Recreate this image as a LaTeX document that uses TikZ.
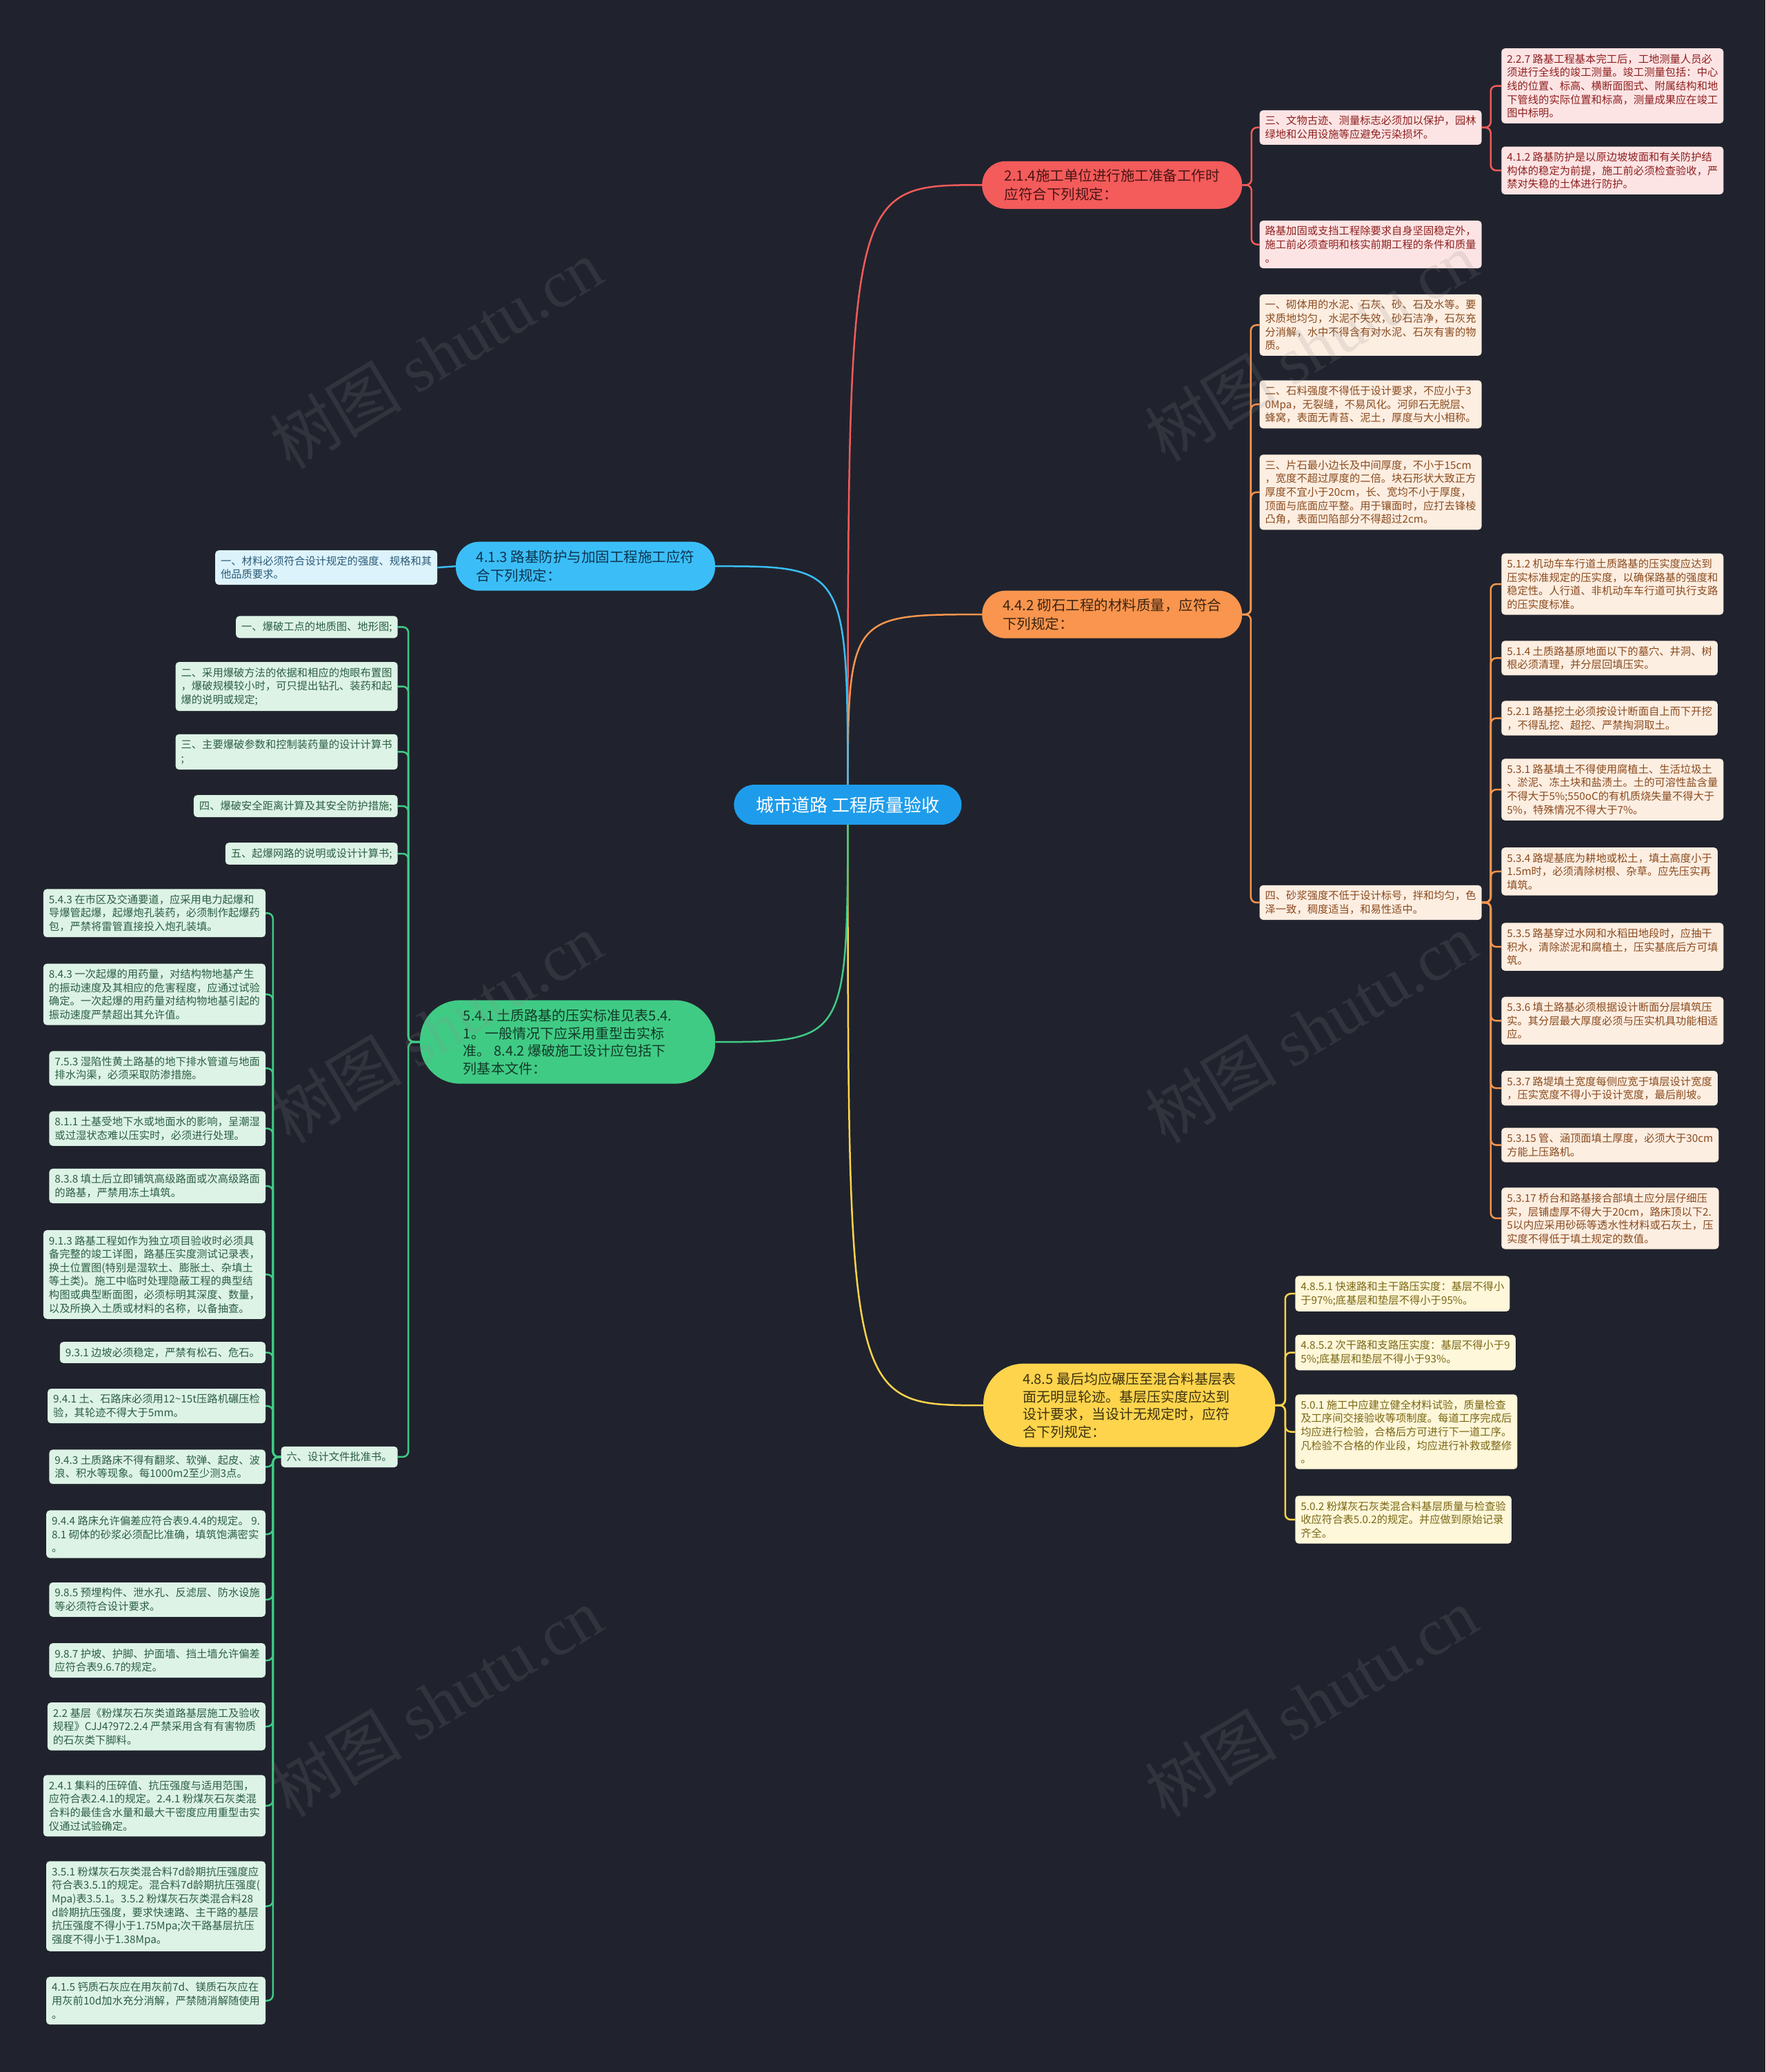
\documentclass[tikz,border=0pt]{standalone}
\usepackage{fontspec}
\setmainfont{Noto Sans CJK SC}
\newfontfamily\wmlatin{Liberation Serif}
\usetikzlibrary{backgrounds}

\definecolor{bg}{HTML}{20232D}
\definecolor{rootC}{HTML}{1E9CEB}
\definecolor{redC}{HTML}{F45B5B}\definecolor{redL}{HTML}{FDE4E4}\definecolor{redT}{HTML}{8E1F1F}\definecolor{redK}{HTML}{4A1414}
\definecolor{oraC}{HTML}{F9954E}\definecolor{oraL}{HTML}{FDEEE2}\definecolor{oraT}{HTML}{8A4B1E}\definecolor{oraK}{HTML}{3D2412}
\definecolor{yelC}{HTML}{FED44C}\definecolor{yelL}{HTML}{FEF7DA}\definecolor{yelT}{HTML}{7B6714}\definecolor{yelK}{HTML}{3D3310}
\definecolor{bluC}{HTML}{3BBEF7}\definecolor{bluL}{HTML}{DDF3FC}\definecolor{bluT}{HTML}{2A5B78}\definecolor{bluK}{HTML}{0E3550}
\definecolor{grnC}{HTML}{40CB85}\definecolor{grnL}{HTML}{DDF3E6}\definecolor{grnT}{HTML}{2C5E44}\definecolor{grnK}{HTML}{123A26}
\definecolor{wmC}{HTML}{8A8A8A}

\begin{document}
\begin{tikzpicture}[
  x=1.9162pt, y=-1.9162pt,
  leaf/.style={rounded corners=5pt, inner xsep=8pt, inner ysep=8pt, align=left,
               font=\fontsize{15.3pt}{19.6pt}\selectfont},
  rleaf/.style={leaf, anchor=west, fill=redL, text=redT},
  oleaf/.style={leaf, anchor=west, fill=oraL, text=oraT},
  yleaf/.style={leaf, anchor=west, fill=yelL, text=yelT},
  bleaf/.style={leaf, anchor=east, fill=bluL, text=bluT},
  gleaf/.style={leaf, anchor=east, fill=grnL, text=grnT},
  topic/.style={align=left, inner xsep=20pt, inner ysep=4pt,
                font=\fontsize{20.5pt}{27pt}\selectfont,
                minimum width=377pt, minimum height=69pt, rounded corners=34pt},
  bigtopic/.style={topic, font=\fontsize{20pt}{25.5pt}\selectfont,
                   minimum height=121pt, rounded corners=58pt},
  link/.style={line width=2.5pt, rounded corners=8pt},
  wm/.style={rotate=31, text=wmC, opacity=0.17, font=\fontsize{96pt}{96pt}\selectfont},
]
\useasboundingbox (0,0) rectangle (1336,1568);

% ── 中心主题 ──
\node[fill=rootC, text=white, font=\fontsize{26pt}{30pt}\selectfont,
      minimum width=330pt, minimum height=58pt, rounded corners=29pt] (root) at (641.5,609)
  {城市道路 工程质量验收};

% ── 一级分支 ──
\node[topic, fill=redC, text=redK] (n214) at (841.5,140)
  {2.1.4施工单位进行施工准备工作时\\应符合下列规定：};
\node[topic, fill=oraC, text=oraK] (n442) at (841.5,465)
  {4.4.2 砌石工程的材料质量，应符合\\下列规定：};
\node[bigtopic, fill=yelC, text=yelK, minimum width=423pt] (n485) at (854.5,1063.5)
  {4.8.5 最后均应碾压至混合料基层表\\面无明显轮迹。基层压实度应达到\\设计要求，当设计无规定时，应符\\合下列规定：};
\node[topic, fill=bluC, text=bluK, minimum width=376pt, minimum height=71pt] (n413) at (443,428.5)
  {4.1.3 路基防护与加固工程施工应符\\合下列规定：};
\node[bigtopic, fill=grnC, text=grnK, minimum width=428pt] (n541) at (429.5,788.5)
  {5.4.1 土质路基的压实标准见表5.4.\\1。一般情况下应采用重型击实标\\准。 8.4.2 爆破施工设计应包括下\\列基本文件：};

% ── 2.1.4 分支 ──
\node[rleaf] (r3) at (953,96.5)
  {三、文物古迹、测量标志必须加以保护，园林\\绿地和公用设施等应避免污染损坏。};
\node[rleaf] (rjg) at (953,185)
  {路基加固或支挡工程除要求自身坚固稳定外，\\施工前必须查明和核实前期工程的条件和质量\\。};
\node[rleaf] (r227) at (1136,65)
  {2.2.7 路基工程基本完工后，工地测量人员必\\须进行全线的竣工测量。竣工测量包括：中心\\线的位置、标高、横断面图式、附属结构和地\\下管线的实际位置和标高，测量成果应在竣工\\图中标明。};
\node[rleaf] (r412) at (1136,129)
  {4.1.2 路基防护是以原边坡坡面和有关防护结\\构体的稳定为前提，施工前必须检查验收，严\\禁对失稳的土体进行防护。};

% ── 4.4.2 分支 ──
\node[oleaf] (o1) at (953,246)
  {一、砌体用的水泥、石灰、砂、石及水等。要\\求质地均匀，水泥不失效，砂石洁净，石灰充\\分消解，水中不得含有对水泥、石灰有害的物\\质。};
\node[oleaf] (o2) at (953,306)
  {二、石料强度不得低于设计要求，不应小于3\\0Mpa，无裂缝，不易风化。河卵石无脱层、\\蜂窝，表面无青苔、泥土，厚度与大小相称。};
\node[oleaf] (o3) at (953,372.5)
  {三、片石最小边长及中间厚度，不小于15cm\\，宽度不超过厚度的二倍。块石形状大致正方\\厚度不宜小于20cm，长、宽均不小于厚度，\\顶面与底面应平整。用于镶面时，应打去锋棱\\凸角，表面凹陷部分不得超过2cm。};
\node[oleaf] (o4) at (953,683)
  {四、砂浆强度不低于设计标号，拌和均匀，色\\泽一致，稠度适当，和易性适中。};
\node[oleaf] (o512) at (1136,442)
  {5.1.2 机动车车行道土质路基的压实度应达到\\压实标准规定的压实度，以确保路基的强度和\\稳定性。人行道、非机动车车行道可执行支路\\的压实度标准。};
\node[oleaf] (o514) at (1136,498)
  {5.1.4 土质路基原地面以下的墓穴、井洞、树\\根必须清理，并分层回填压实。};
\node[oleaf] (o521) at (1136,543.5)
  {5.2.1 路基挖土必须按设计断面自上而下开挖\\，不得乱挖、超挖、严禁掏洞取土。};
\node[oleaf] (o531) at (1136,597.5)
  {5.3.1 路基填土不得使用腐植土、生活垃圾土\\、淤泥、冻土块和盐渍土。土的可溶性盐含量\\不得大于5\%;550oC的有机质烧失量不得大于\\5\%，特殊情况不得大于7\%。};
\node[oleaf] (o534) at (1136,659.5)
  {5.3.4 路堤基底为耕地或松土，填土高度小于\\1.5m时，必须清除树根、杂草。应先压实再\\填筑。};
\node[oleaf] (o535) at (1136,716.5)
  {5.3.5 路基穿过水网和水稻田地段时，应抽干\\积水，清除淤泥和腐植土，压实基底后方可填\\筑。};
\node[oleaf] (o536) at (1136,772.5)
  {5.3.6 填土路基必须根据设计断面分层填筑压\\实。其分层最大厚度必须与压实机具功能相适\\应。};
\node[oleaf] (o537) at (1136,823.5)
  {5.3.7 路堤填土宽度每侧应宽于填层设计宽度\\，压实宽度不得小于设计宽度，最后削坡。};
\node[oleaf] (o5315) at (1136,866.5)
  {5.3.15 管、涵顶面填土厚度，必须大于30cm\\方能上压路机。};
\node[oleaf] (o5317) at (1136,922)
  {5.3.17 桥台和路基接合部填土应分层仔细压\\实，层铺虚厚不得大于20cm，路床顶以下2.\\5以内应采用砂砾等透水性材料或石灰土，压\\实度不得低于填土规定的数值。};

% ── 4.8.5 分支 ──
\node[yleaf] (y1) at (980,979)
  {4.8.5.1 快速路和主干路压实度：基层不得小\\于97\%;底基层和垫层不得小于95\%。};
\node[yleaf] (y2) at (980,1023.5)
  {4.8.5.2 次干路和支路压实度：基层不得小于9\\5\%;底基层和垫层不得小于93\%。};
\node[yleaf] (y3) at (980,1083.5)
  {5.0.1 施工中应建立健全材料试验，质量检查\\及工序间交接验收等项制度。每道工序完成后\\均应进行检验，合格后方可进行下一道工序。\\凡检验不合格的作业段，均应进行补救或整修\\。};
\node[yleaf] (y4) at (980,1150)
  {5.0.2 粉煤灰石灰类混合料基层质量与检查验\\收应符合表5.0.2的规定。并应做到原始记录\\齐全。};

% ── 4.1.3 分支 ──
\node[bleaf] (b1) at (331,429.5)
  {一、材料必须符合设计规定的强度、规格和其\\他品质要求。};

% ── 5.4.1 分支 ──
\node[gleaf] (g1) at (301,474.5) {一、爆破工点的地质图、地形图;};
\node[gleaf] (g2) at (301,519.5)
  {二、采用爆破方法的依据和相应的炮眼布置图\\，爆破规模较小时，可只提出钻孔、装药和起\\爆的说明或规定;};
\node[gleaf] (g3) at (301,569) {三、主要爆破参数和控制装药量的设计计算书\\;};
\node[gleaf] (g4) at (301,610) {四、爆破安全距离计算及其安全防护措施;};
\node[gleaf] (g5) at (301,646) {五、起爆网路的说明或设计计算书;};
\node[gleaf] (g6) at (301,1102.5) {六、设计文件批准书。};

\node[gleaf] (h1) at (201,691)
  {5.4.3 在市区及交通要道，应采用电力起爆和\\导爆管起爆，起爆炮孔装药，必须制作起爆药\\包，严禁将雷管直接投入炮孔装填。};
\node[gleaf] (h2) at (201,752.5)
  {8.4.3 一次起爆的用药量，对结构物地基产生\\的振动速度及其相应的危害程度，应通过试验\\确定。一次起爆的用药量对结构物地基引起的\\振动速度严禁超出其允许值。};
\node[gleaf] (h3) at (201,808.5)
  {7.5.3 湿陷性黄土路基的地下排水管道与地面\\排水沟渠，必须采取防渗措施。};
\node[gleaf] (h4) at (201,854)
  {8.1.1 土基受地下水或地面水的影响，呈潮湿\\或过湿状态难以压实时，必须进行处理。};
\node[gleaf] (h5) at (201,897.5)
  {8.3.8 填土后立即铺筑高级路面或次高级路面\\的路基，严禁用冻土填筑。};
\node[gleaf] (h6) at (201,964.5)
  {9.1.3 路基工程如作为独立项目验收时必须具\\备完整的竣工详图，路基压实度测试记录表，\\换土位置图(特别是湿软土、膨胀土、杂填土\\等土类)。施工中临时处理隐蔽工程的典型结\\构图或典型断面图，必须标明其深度、数量，\\以及所换入土质或材料的名称，以备抽查。};
\node[gleaf] (h7) at (201,1023.5) {9.3.1 边坡必须稳定，严禁有松石、危石。};
\node[gleaf] (h8) at (201,1064)
  {9.4.1 土、石路床必须用12\textasciitilde15t压路机碾压检\\验，其轮迹不得大于5mm。};
\node[gleaf] (h9) at (201,1110)
  {9.4.3 土质路床不得有翻浆、软弹、起皮、波\\浪、积水等现象。每1000m2至少测3点。};
\node[gleaf] (h10) at (201,1161)
  {9.4.4 路床允许偏差应符合表9.4.4的规定。 9.\\8.1 砌体的砂浆必须配比准确，填筑饱满密实\\。};
\node[gleaf] (h11) at (201,1210.5)
  {9.8.5 预埋构件、泄水孔、反滤层、防水设施\\等必须符合设计要求。};
\node[gleaf] (h12) at (201,1256.5)
  {9.8.7 护坡、护脚、护面墙、挡土墙允许偏差\\应符合表9.6.7的规定。};
\node[gleaf] (h13) at (201,1306.5)
  {2.2 基层《粉煤灰石灰类道路基层施工及验收\\规程》CJJ4?972.2.4 严禁采用含有有害物质\\的石灰类下脚料。};
\node[gleaf] (h14) at (201,1366.5)
  {2.4.1 集料的压碎值、抗压强度与适用范围，\\应符合表2.4.1的规定。2.4.1 粉煤灰石灰类混\\合料的最佳含水量和最大干密度应用重型击实\\仪通过试验确定。};
\node[gleaf] (h15) at (201,1442.5)
  {3.5.1 粉煤灰石灰类混合料7d龄期抗压强度应\\符合表3.5.1的规定。混合料7d龄期抗压强度(\\Mpa)表3.5.1。3.5.2 粉煤灰石灰类混合料28\\d龄期抗压强度，要求快速路、主干路的基层\\抗压强度不得小于1.75Mpa;次干路基层抗压\\强度不得小于1.38Mpa。};
\node[gleaf] (h16) at (201,1514)
  {4.1.5 钙质石灰应在用灰前7d、镁质石灰应在\\用灰前10d加水充分消解，严禁随消解随使用\\。};

% ── 分支线的竖向主干位置 ──
\coordinate (t214) at (947,0);
\coordinate (t3) at (1128,0);
\coordinate (t442) at (946.5,0);
\coordinate (t4) at (1128,0);
\coordinate (t485) at (972.5,0);
\coordinate (t541) at (309,0);
\coordinate (t6) at (206.5,0);

% ── 连线 ──
\begin{scope}[on background layer]
  \fill[bg] (0,0) rectangle (1336,1568);
  \draw[link, draw=redC] (root.center) .. controls (root.center |- n214.west) and (root.center |- n214.west) .. (n214.west);
  \draw[link, draw=oraC] (root.center) .. controls (root.center |- n442.west) and (root.center |- n442.west) .. (n442.west);
  \draw[link, draw=yelC] (root.center) .. controls (root.center |- n485.west) and (root.center |- n485.west) .. (n485.west);
  \draw[link, draw=bluC] (root.center) .. controls (root.center |- n413.east) and (root.center |- n413.east) .. (n413.east);
  \draw[link, draw=grnC] (root.center) .. controls (root.center |- n541.east) and (root.center |- n541.east) .. (n541.east);
  \foreach \c in {r3,rjg} \draw[link, draw=redC] (n214.east) -- (n214.east -| t214) |- (\c.west);
  \foreach \c in {r227,r412} \draw[link, draw=redC] (r3.east) -- (r3.east -| t3) |- (\c.west);
  \foreach \c in {o1,o2,o3,o4} \draw[link, draw=oraC] (n442.east) -- (n442.east -| t442) |- (\c.west);
  \foreach \c in {o512,o514,o521,o531,o534,o535,o536,o537,o5315,o5317}
    \draw[link, draw=oraC] (o4.east) -- (o4.east -| t4) |- (\c.west);
  \foreach \c in {y1,y2,y3,y4} \draw[link, draw=yelC] (n485.east) -- (n485.east -| t485) |- (\c.west);
  \draw[link, draw=bluC] (n413.west) -- (b1.east);
  \foreach \c in {g1,g2,g3,g4,g5,g6} \draw[link, draw=grnC] (n541.west) -- (n541.west -| t541) |- (\c.east);
  \foreach \c in {h1,h2,h3,h4,h5,h6,h7,h8,h9,h10,h11,h12,h13,h14,h15,h16}
    \draw[link, draw=grnC] (g6.west) -- (g6.west -| t6) |- (\c.east);
\end{scope}

% ── 水印 ──
\foreach \wx/\wy [count=\i] in {330/268, 992/262, 330/778, 992/778, 330/1288, 992/1288}
  \node[wm] (wm\i) at (\wx,\wy) {树图 {\wmlatin shutu.cn}};

\end{tikzpicture}
\end{document}
